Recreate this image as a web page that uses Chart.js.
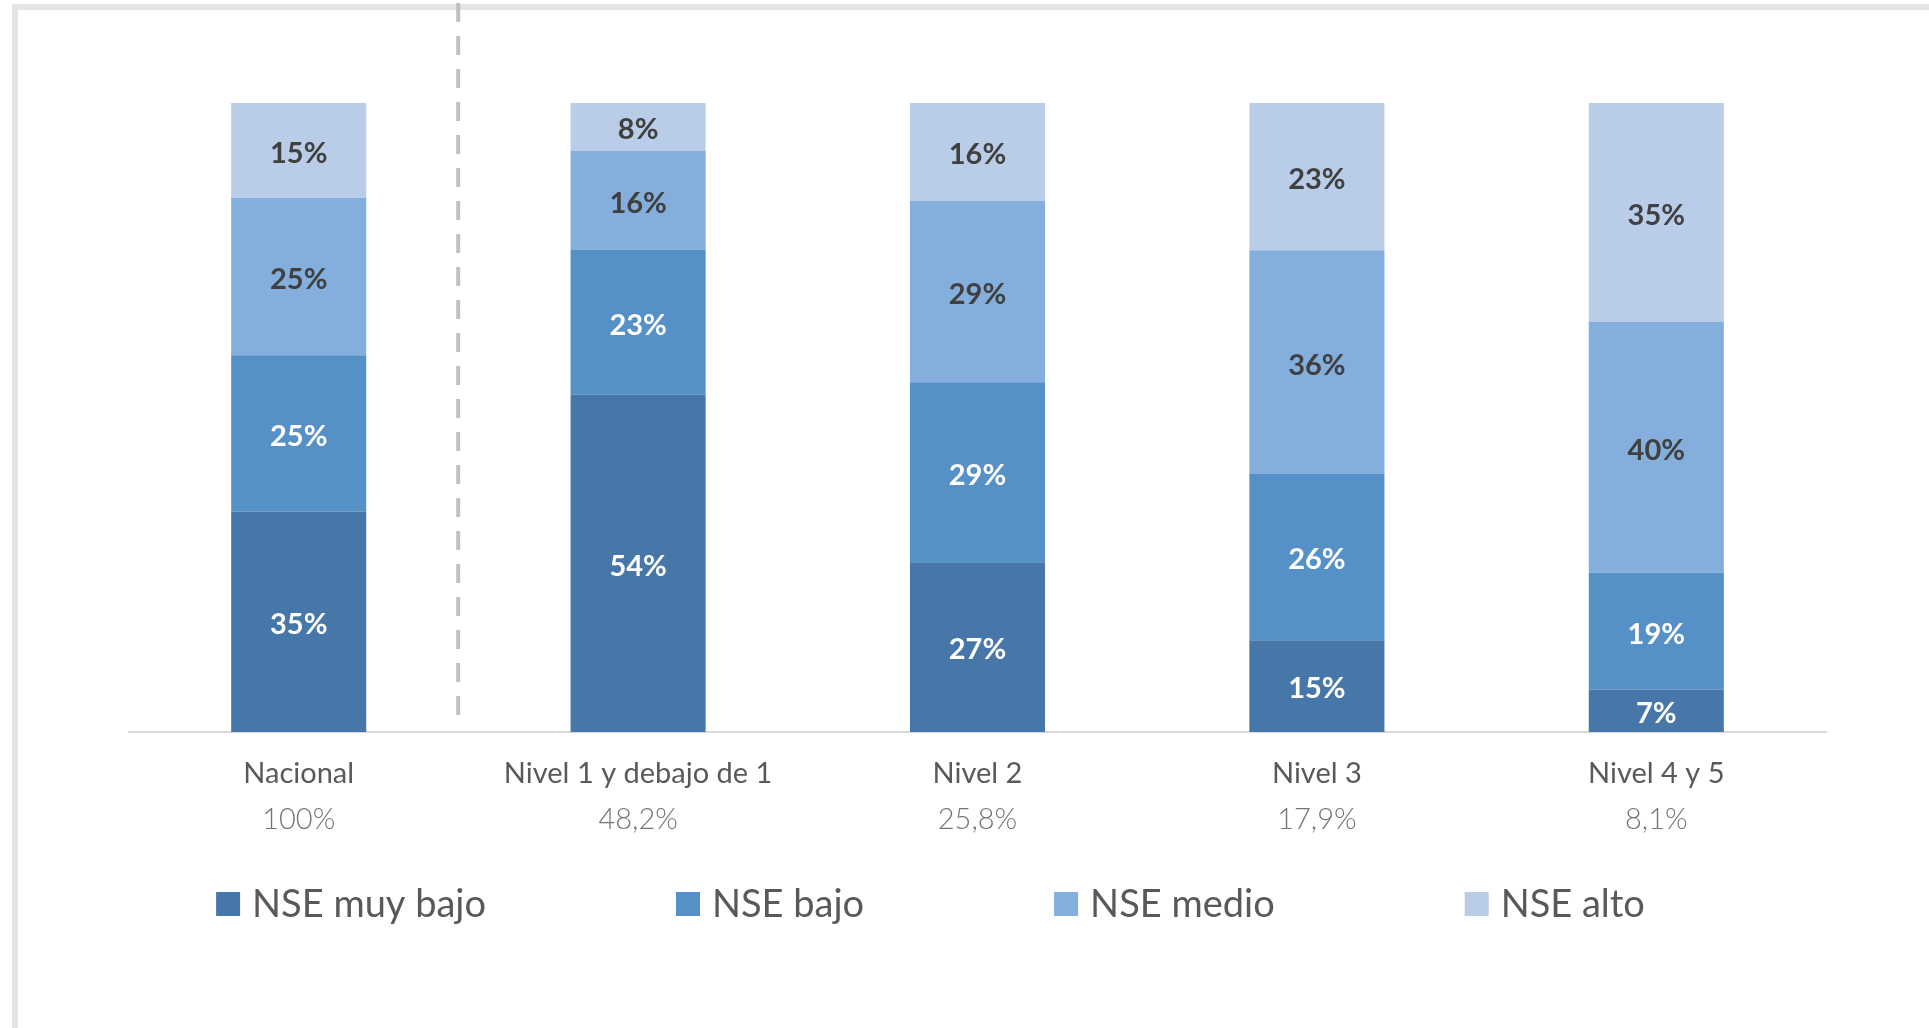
<!DOCTYPE html>
<html>
<head>
<meta charset="utf-8">
<script src="https://cdn.jsdelivr.net/npm/chart.js@4"></script>
<style>
  html, body { margin: 0; padding: 0; background: #fff; overflow: hidden; }
  #frame {
    position: absolute; left: 12px; top: 4px; width: 2000px; height: 1100px;
    border-top: 6px solid #e4e4e4; border-left: 6px solid #e4e4e4;
  }
  #chart { position: absolute; left: 0; top: 0; }
</style>
</head>
<body>
<div id="frame"></div>
<canvas id="chart" width="1929" height="1028"></canvas>
<script>
// categories and their share of students
const categories = ['Nacional', 'Nivel 1 y debajo de 1', 'Nivel 2', 'Nivel 3', 'Nivel 4 y 5'];
const shares = ['100%', '48,2%', '25,8%', '17,9%', '8,1%'];

// percentage of each socioeconomic level (NSE) inside each category
const muyBajo = [35.0, 53.6, 27.0, 14.6, 6.7];
const bajo    = [24.9, 23.1, 28.6, 26.4, 18.6];
const medio   = [25.0, 15.7, 28.8, 35.6, 39.9];
const alto    = [15.1, 7.6, 15.6, 23.4, 34.8];

const seriesNames = ['NSE muy bajo', 'NSE bajo', 'NSE medio', 'NSE alto'];
const seriesColors = ['#4677a8', '#5591c7', '#84aedb', '#b9cde8'];
const labelColors = ['#ffffff', '#ffffff', '#404040', '#404040'];

const FONT = "Lato, 'Open Sans', sans-serif";

// bold % values in the middle of every segment
const segmentLabels = {
  id: 'segmentLabels',
  afterDatasetsDraw(chart){
    const ctx = chart.ctx;
    ctx.save();
    ctx.font = `bold 29px ${FONT}`;
    ctx.textAlign = 'center';
    ctx.textBaseline = 'middle';
    chart.data.datasets.forEach(function(ds, i){
      const meta = chart.getDatasetMeta(i);
      ctx.fillStyle = labelColors[i];
      meta.data.forEach(function(bar, j){
        const p = bar.getProps(['x', 'y', 'base'], true);
        ctx.fillText(`${Math.round(ds.data[j])}%`, p.x, (p.y + p.base) / 2 + 3);
      });
    });
    ctx.restore();
  }
};

// dashed separator between "Nacional" and the levels
const divider = {
  id: 'divider',
  beforeDatasetsDraw(chart){
    const ctx = chart.ctx;
    const x = chart.scales.x.getPixelForValue(0.47);
    ctx.save();
    ctx.strokeStyle = '#c0c0c0';
    ctx.lineWidth = 4;
    ctx.setLineDash([19, 14]);
    ctx.beginPath();
    ctx.moveTo(x, 3);
    ctx.lineTo(x, chart.chartArea.bottom - 5);
    ctx.stroke();
    ctx.restore();
  }
};

// wide legend row like the original office chart
const wideLegend = {
  id: 'wideLegend',
  afterDraw(chart){
    const ctx = chart.ctx;
    const box = 24, textGap = 12, itemGap = 190;
    ctx.save();
    ctx.font = `38px ${FONT}`;
    ctx.textBaseline = 'middle';
    ctx.textAlign = 'left';
    const items = chart.data.datasets.map(ds => ({
      text: ds.label, color: ds.backgroundColor, w: ctx.measureText(ds.label).width
    }));
    const total = items.reduce((s, it) => s + box + textGap + it.w, 0) + itemGap * (items.length - 1);
    let x = chart.width / 2 - 34 - total / 2;
    const y = chart.scales.x2.bottom + 62;
    items.forEach(function(it){
      ctx.fillStyle = it.color;
      ctx.fillRect(x, y - box / 2, box, box);
      ctx.fillStyle = '#595959';
      ctx.fillText(it.text, x + box + textGap, y + 1);
      x += box + textGap + it.w + itemGap;
    });
    ctx.restore();
  }
};

const seriesData = [muyBajo, bajo, medio, alto];

new Chart(document.getElementById('chart'), {
  type: 'bar',
  data: {
    labels: categories,
    datasets: seriesNames.map((name, i) => ({
      label: name,
      data: seriesData[i],
      backgroundColor: seriesColors[i],
      borderWidth: 0,
      barPercentage: 0.398,
      categoryPercentage: 1
    }))
  },
  options: {
    responsive: false,
    animation: false,
    layout: {
      padding: {left: 129, right: 103, top: 103, bottom: 186}
    },
    scales: {
      x: {
        stacked: true,
        offset: true,
        grid: {display: false, drawTicks: false},
        border: {display: true, color: '#d9d9d9', width: 2},
        ticks: {
          color: '#595959',
          padding: 24,
          font: {family: FONT, size: 29}
        },
        afterFit: function(scale){ scale.height = 64; }
      },
      x2: {
        type: 'category',
        position: 'bottom',
        labels: shares,
        offset: true,
        weight: 1,
        grid: {display: false, drawTicks: false},
        border: {display: false},
        ticks: {
          color: '#757575',
          padding: 6,
          font: {family: FONT, size: 29, weight: 300}
        },
        afterFit: function(scale){ scale.height = 46; }
      },
      y: {
        stacked: true,
        display: false,
        min: 0,
        max: 100
      }
    },
    plugins: {
      legend: {display: false},
      tooltip: {enabled: false}
    }
  },
  plugins: [divider, segmentLabels, wideLegend]
});
</script>
</body>
</html>
